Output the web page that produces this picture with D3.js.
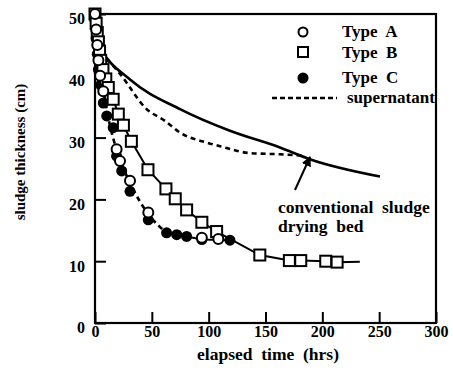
<!DOCTYPE html>
<html>
<head>
<meta charset="utf-8">
<script src="https://cdn.jsdelivr.net/npm/d3@7"></script>
<style>
body{margin:0;background:#fff;}
svg text{font-family:"Liberation Serif","Times New Roman",Times,serif !important;font-weight:bold;fill:#000;}
</style>
</head>
<body>
<svg id="chart" width="453" height="385"></svg>
<script>
// sludge thickness (cm) vs elapsed time (hrs)
var typeA = [[0,50],[1,47.5],[2,45],[3,42.5],[4.5,40],[7.3,37.5],[19,28.1],[22,26.2],[30.8,23],[46.9,17.9],[94,13.8],[108.5,13.6]];
var typeB = [[0,50],[1,48.5],[2,47],[3,45.5],[4,44],[5,42.5],[7,41],[9.5,39.5],[11.7,38.1],[16,36.2],[20.5,33.8],[25,32],[32,29.4],[46.6,24.8],[62.4,21.7],[70.6,20.1],[80.6,18.3],[94,16.3],[107,14.8],[145,11],[171,10.1],[181,10.1],[203,10],[213,9.85]];
var typeBEnd = [233,9.9];
var typeC = [[0,49],[1,46],[2,43.5],[3,41],[5,38.5],[7.3,35.6],[10.3,33.5],[16,31.6],[19,27],[23.5,24.6],[30.8,21.3],[46.9,16.7],[63,14.6],[71.9,14.3],[80.6,14],[94,13.5],[118.7,13.4]];
var curveAC = [[0,50],[5,41],[12,33],[20,27.5],[31,22.6],[47,17.6],[63,14.6]];
var supernatant = [[0,48],[7,43],[13,42.2],[22,40.3],[45.5,34.6],[61.6,32.7],[74.8,30.8],[98,29.2],[110,28.6],[136,27.5],[162.7,27.3],[183,27.1]];
var conventional = [[0,46],[5,44.3],[30.8,39.4],[74.8,34.6],[118.7,31.1],[162.7,28.4],[189,26.5],[250.7,23.7]];
var xTicks = [0,50,100,150,200,250,300];
var yTicks = [0,10,20,30,40,50];

var svg = d3.select("#chart");
var x = d3.scaleLinear().domain([0,300]).range([95,436]);
var y = d3.scaleLinear().domain([0,50]).range([323,14]);
var FONT = "Liberation Serif";

// frame
svg.append("rect")
  .attr("x", x(0)).attr("y", y(50))
  .attr("width", x(300)-x(0)).attr("height", y(0)-y(50))
  .attr("fill","none").attr("stroke","#000").attr("stroke-width",2.2);

// inward ticks
var xAxis = d3.axisBottom(x).tickValues(xTicks).tickSize(-11).tickPadding(3);
var yAxis = d3.axisLeft(y).tickValues(yTicks).tickSize(-11).tickPadding(10);

var gx = svg.append("g").attr("transform","translate(0," + y(0) + ")").call(xAxis)
  .attr("font-family", FONT);
gx.select(".domain").remove();
gx.selectAll(".tick line").attr("stroke-width",2);
gx.selectAll(".tick text").attr("font-size",16).attr("dy","0.71em");

var gy = svg.append("g").attr("transform","translate(" + x(0) + ",0)").call(yAxis)
  .attr("font-family", FONT);
gy.select(".domain").remove();
gy.selectAll(".tick line").attr("stroke-width",2);
gy.selectAll(".tick text").attr("font-size",16).attr("dy","0.62em");

svg.append("text")
  .attr("x", 268).attr("y", 360)
  .attr("text-anchor","middle").attr("font-size",17.5).attr("font-family",FONT)
  .style("white-space","pre")
  .text("elapsed  time  (hrs)");

svg.append("text")
  .attr("transform","translate(25,152) rotate(-90)")
  .attr("text-anchor","middle").attr("font-size",15).attr("font-family",FONT)
  .text("sludge thickness (cm)");

var line = d3.line().x(function(d){ return x(d[0]); }).y(function(d){ return y(d[1]); });
var smooth = d3.line().curve(d3.curveMonotoneX).x(function(d){ return x(d[0]); }).y(function(d){ return y(d[1]); });

svg.append("path").datum(conventional).attr("d", smooth)
  .attr("fill","none").attr("stroke","#000").attr("stroke-width",2.6);
svg.append("path").datum(supernatant).attr("d", smooth)
  .attr("fill","none").attr("stroke","#000").attr("stroke-width",2.6).attr("stroke-dasharray","5,4");
svg.append("path").datum(curveAC).attr("d", smooth)
  .attr("fill","none").attr("stroke","#000").attr("stroke-width",2.6).attr("stroke-dasharray","5,4");
svg.append("path").datum(typeC.filter(function(d){ return d[0] >= 63; })).attr("d", line)
  .attr("fill","none").attr("stroke","#000").attr("stroke-width",2);
svg.append("path").datum(typeB.concat([typeBEnd])).attr("d", line)
  .attr("fill","none").attr("stroke","#000").attr("stroke-width",2);

// markers
svg.append("g").selectAll("circle").data(typeC).enter().append("circle")
  .attr("cx", function(d){ return x(d[0]); }).attr("cy", function(d){ return y(d[1]); })
  .attr("r",5.5).attr("fill","#000");
svg.append("g").selectAll("rect").data(typeB).enter().append("rect")
  .attr("x", function(d){ return x(d[0]) - 5.5; }).attr("y", function(d){ return y(d[1]) - 5.5; })
  .attr("width",11).attr("height",11)
  .attr("fill","#fff").attr("stroke","#000").attr("stroke-width",2);
svg.append("g").selectAll("circle").data(typeA).enter().append("circle")
  .attr("cx", function(d){ return x(d[0]); }).attr("cy", function(d){ return y(d[1]); })
  .attr("r",5).attr("fill","#fff").attr("stroke","#000").attr("stroke-width",2);

// legend
var lg = svg.append("g").attr("font-family",FONT);
lg.append("circle").attr("cx",303).attr("cy",32).attr("r",4.5)
  .attr("fill","#fff").attr("stroke","#000").attr("stroke-width",2);
lg.append("rect").attr("x",298).attr("y",47).attr("width",10).attr("height",10)
  .attr("fill","#fff").attr("stroke","#000").attr("stroke-width",2);
lg.append("circle").attr("cx",303).attr("cy",78).attr("r",5.5).attr("fill","#000");
lg.append("line").attr("x1",272).attr("x2",337).attr("y1",98).attr("y2",98)
  .attr("stroke","#000").attr("stroke-width",2.4).attr("stroke-dasharray","5,3");
var legendLabels = ["Type  A","Type  B","Type  C","supernatant"];
var legendY = [37,58,83,103];
lg.selectAll("text.lab").data(legendLabels).enter().append("text")
  .attr("class","lab")
  .attr("x", function(d,i){ return i < 3 ? 342 : 347; })
  .attr("y", function(d,i){ return legendY[i]; })
  .attr("font-size",17).style("white-space","pre")
  .text(function(d){ return d; });

// annotation
var ann = svg.append("g").attr("font-family",FONT);
ann.append("text").attr("x",278).attr("y",213).attr("font-size",17.5)
  .style("white-space","pre").text("conventional  sludge");
ann.append("text").attr("x",278).attr("y",232).attr("font-size",17.5)
  .style("white-space","pre").text("drying  bed");
svg.append("defs").append("marker").attr("id","arr")
  .attr("viewBox","0 0 10 10").attr("refX",9).attr("refY",5)
  .attr("markerWidth",5).attr("markerHeight",5).attr("orient","auto")
  .append("path").attr("d","M0,0L10,5L0,10z").attr("fill","#000");
svg.append("line").attr("x1",295).attr("y1",190).attr("x2",310).attr("y2",157)
  .attr("stroke","#000").attr("stroke-width",2).attr("marker-end","url(#arr)");
</script>
</body>
</html>
